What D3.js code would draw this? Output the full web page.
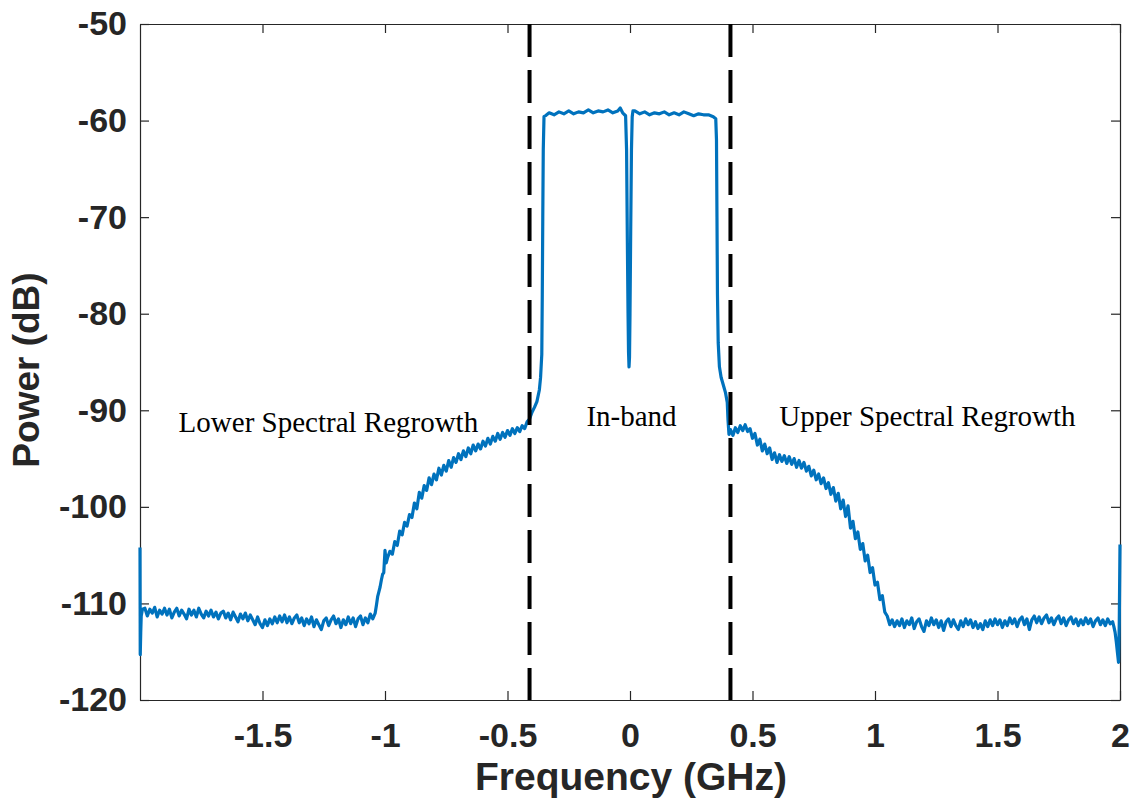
<!DOCTYPE html>
<html>
<head>
<meta charset="utf-8">
<script src="https://cdn.jsdelivr.net/npm/d3@7"></script>
<style>
    body { margin: 0; background: #fff; }
    svg text { font-family: "Liberation Sans", Arial, sans-serif; }
</style>
</head>
<body>
<svg id="chart" width="1135" height="800"></svg>
<script>
// tick values
const xTicks = [-1.5, -1, -0.5, 0, 0.5, 1, 1.5, 2];
const yTicks = [-120, -110, -100, -90, -80, -70, -60, -50];

// dashed band edges (GHz)
const bandEdges = [-0.41, 0.41];

// region annotations
const regionLabels = ['Lower Spectral Regrowth', 'In-band', 'Upper Spectral Regrowth'];
const regionLabelFreq = [-1.231, 0.006, 1.214];
const regionLabelPower = [-92.3, -91.6, -91.6];

// spectrum, [frequency GHz, power dB]
const leftEdge = [
    [-2.0, -104.2], [-1.999, -115.3], [-1.997, -113.0], [-1.995, -111.3], [-1.99, -110.6]
];
const lowerFloor = [
    [-1.98, -110.5], [-1.97, -111.3], [-1.96, -110.6], [-1.95, -111.0], [-1.94, -110.4],
    [-1.93, -111.4], [-1.92, -110.7], [-1.91, -111.1], [-1.90, -110.5], [-1.89, -111.2],
    [-1.88, -110.6], [-1.87, -111.5], [-1.86, -110.9], [-1.85, -110.5], [-1.84, -111.3],
    [-1.83, -110.7], [-1.82, -111.1], [-1.81, -111.6], [-1.80, -110.6], [-1.79, -111.2],
    [-1.78, -110.7], [-1.77, -111.4], [-1.76, -110.5], [-1.75, -111.1], [-1.74, -111.5],
    [-1.73, -110.8], [-1.72, -111.3], [-1.71, -110.7], [-1.70, -111.4], [-1.69, -110.9],
    [-1.68, -111.6], [-1.67, -111.0], [-1.66, -110.8], [-1.65, -111.5], [-1.64, -111.0],
    [-1.63, -111.7], [-1.62, -110.9], [-1.61, -111.4], [-1.60, -111.9], [-1.59, -111.1],
    [-1.58, -111.6], [-1.57, -111.0], [-1.56, -111.8], [-1.55, -111.2], [-1.54, -111.7],
    [-1.53, -112.2], [-1.52, -111.4], [-1.51, -112.1], [-1.50, -112.5], [-1.49, -111.7],
    [-1.48, -112.3], [-1.47, -111.6], [-1.46, -112.1], [-1.45, -111.4], [-1.44, -112.0],
    [-1.43, -111.3], [-1.42, -111.9], [-1.41, -111.2], [-1.40, -112.0], [-1.39, -111.4],
    [-1.38, -112.1], [-1.37, -111.5], [-1.36, -111.2], [-1.35, -112.0], [-1.34, -111.5],
    [-1.33, -112.3], [-1.32, -111.6], [-1.31, -112.1], [-1.30, -111.4], [-1.29, -112.4],
    [-1.28, -111.7], [-1.27, -112.2], [-1.26, -112.7], [-1.25, -111.8], [-1.24, -111.5],
    [-1.23, -112.3], [-1.22, -111.7], [-1.21, -111.3], [-1.20, -112.1], [-1.19, -111.6],
    [-1.18, -112.5], [-1.17, -111.7], [-1.16, -112.2], [-1.15, -111.4], [-1.14, -112.1],
    [-1.13, -111.5], [-1.12, -112.4], [-1.11, -111.6], [-1.10, -111.3], [-1.09, -112.2],
    [-1.08, -111.5], [-1.07, -112.0], [-1.06, -111.1], [-1.05, -111.6]
];
const lowerRegrowth = [
    [-1.04, -111.0], [-1.035, -110.2], [-1.03, -109.3], [-1.025, -108.8], [-1.02, -108.3],
    [-1.015, -107.6], [-1.01, -107.0], [-1.005, -106.8], [-1.0, -104.5], [-0.995, -105.8],
    [-0.99, -105.3], [-0.98, -104.6], [-0.97, -104.9], [-0.96, -103.6], [-0.95, -104.0],
    [-0.94, -102.5], [-0.93, -102.9], [-0.92, -101.6], [-0.91, -102.0], [-0.90, -100.8],
    [-0.89, -101.1], [-0.88, -99.6], [-0.87, -100.2], [-0.86, -98.5], [-0.85, -99.1],
    [-0.84, -97.8], [-0.83, -98.3], [-0.82, -97.0], [-0.81, -97.7], [-0.80, -96.6],
    [-0.79, -97.2], [-0.78, -96.0], [-0.77, -96.7], [-0.76, -95.7], [-0.75, -96.3],
    [-0.74, -95.2], [-0.73, -95.9], [-0.72, -94.9], [-0.71, -95.4], [-0.70, -94.5],
    [-0.69, -95.1], [-0.68, -94.2], [-0.67, -94.8], [-0.66, -93.9], [-0.65, -94.5],
    [-0.64, -93.6], [-0.63, -94.2], [-0.62, -93.5], [-0.61, -94.0], [-0.60, -93.2],
    [-0.59, -93.7], [-0.58, -92.9], [-0.57, -93.5], [-0.56, -92.7], [-0.55, -93.2],
    [-0.54, -92.4], [-0.53, -93.0], [-0.52, -92.3], [-0.51, -92.8], [-0.50, -92.1],
    [-0.49, -92.6], [-0.48, -91.9], [-0.47, -92.4], [-0.46, -91.8], [-0.45, -92.2],
    [-0.44, -91.6], [-0.43, -91.9], [-0.42, -91.2], [-0.41, -90.9], [-0.40, -90.2],
    [-0.39, -89.7], [-0.38, -89.1], [-0.37, -87.9], [-0.365, -86.6], [-0.36, -84.2],
    [-0.358, -78.0], [-0.356, -70.0], [-0.354, -63.0], [-0.351, -59.6]
];
const inBand = [
    [-0.345, -59.5], [-0.33, -59.2], [-0.31, -59.4], [-0.29, -59.1], [-0.27, -59.3],
    [-0.25, -59.0], [-0.23, -59.3], [-0.21, -59.1], [-0.19, -59.2], [-0.17, -58.9],
    [-0.15, -59.2], [-0.13, -59.0], [-0.11, -59.1], [-0.09, -58.9], [-0.07, -59.2],
    [-0.05, -59.0], [-0.04, -58.7], [-0.03, -59.2], [-0.018, -59.5], [-0.014, -63.0],
    [-0.011, -72.0], [-0.008, -80.0], [-0.006, -84.0], [-0.004, -85.5], [-0.002, -84.5],
    [0.0, -80.0], [0.003, -71.0], [0.006, -63.0], [0.009, -59.6], [0.012, -59.0],
    [0.02, -59.0], [0.04, -59.3], [0.06, -59.1], [0.08, -59.4], [0.10, -59.2],
    [0.12, -59.3], [0.14, -59.1], [0.16, -59.4], [0.18, -59.2], [0.20, -59.4],
    [0.22, -59.1], [0.24, -59.3], [0.26, -59.5], [0.28, -59.3], [0.30, -59.4],
    [0.32, -59.4], [0.34, -59.6], [0.345, -59.7], [0.350, -59.8], [0.353, -62.0],
    [0.355, -70.0], [0.357, -78.0], [0.360, -83.0], [0.365, -85.5], [0.372, -86.6],
    [0.38, -87.3], [0.39, -88.2], [0.397, -89.2], [0.400, -91.0], [0.404, -92.5],
    [0.41, -92.0]
];
const upperRegrowth = [
    [0.42, -92.6], [0.43, -91.8], [0.44, -92.3], [0.45, -91.6], [0.46, -92.1],
    [0.47, -91.5], [0.48, -92.2], [0.49, -91.9], [0.50, -92.9], [0.51, -92.4],
    [0.52, -93.6], [0.53, -93.0], [0.54, -94.2], [0.55, -93.5], [0.56, -94.5],
    [0.57, -93.9], [0.58, -95.1], [0.59, -94.4], [0.60, -95.4], [0.61, -94.6],
    [0.62, -95.3], [0.63, -94.7], [0.64, -95.5], [0.65, -94.8], [0.66, -95.6],
    [0.67, -95.0], [0.68, -95.9], [0.69, -95.2], [0.70, -96.0], [0.71, -95.4],
    [0.72, -96.3], [0.73, -95.8], [0.74, -96.8], [0.75, -96.2], [0.76, -97.2],
    [0.77, -96.6], [0.78, -97.6], [0.79, -97.0], [0.80, -98.1], [0.81, -97.5],
    [0.82, -98.7], [0.83, -98.0], [0.84, -99.4], [0.85, -98.6], [0.86, -100.2],
    [0.87, -99.3], [0.88, -101.0], [0.89, -99.9], [0.90, -102.2], [0.91, -101.5],
    [0.92, -103.3], [0.93, -102.6], [0.94, -104.4], [0.95, -103.8], [0.96, -105.6],
    [0.97, -105.0], [0.98, -106.8], [0.99, -106.3], [1.00, -108.1], [1.01, -107.8],
    [1.02, -109.6], [1.03, -109.2], [1.04, -110.9], [1.05, -111.3], [1.06, -112.2]
];
const upperFloor = [
    [1.07, -111.7], [1.08, -112.4], [1.09, -111.8], [1.10, -112.3], [1.11, -111.6],
    [1.12, -112.5], [1.13, -111.8], [1.14, -112.2], [1.15, -111.5], [1.16, -112.6],
    [1.17, -111.9], [1.18, -111.6], [1.19, -112.4], [1.20, -112.9], [1.21, -111.8],
    [1.22, -112.3], [1.23, -111.5], [1.24, -112.2], [1.25, -111.7], [1.26, -112.5],
    [1.27, -111.8], [1.28, -112.8], [1.29, -111.9], [1.30, -111.6], [1.31, -112.4],
    [1.32, -111.7], [1.33, -112.3], [1.34, -112.7], [1.35, -111.8], [1.36, -112.4],
    [1.37, -111.6], [1.38, -112.2], [1.39, -111.7], [1.40, -112.5], [1.41, -111.9],
    [1.42, -112.6], [1.43, -112.1], [1.44, -112.7], [1.45, -111.8], [1.46, -112.4],
    [1.47, -111.7], [1.48, -112.3], [1.49, -111.6], [1.50, -112.2], [1.51, -111.7],
    [1.52, -112.5], [1.53, -111.8], [1.54, -112.3], [1.55, -111.5], [1.56, -112.1],
    [1.57, -111.6], [1.58, -112.4], [1.59, -111.7], [1.60, -111.4], [1.61, -112.2],
    [1.62, -111.6], [1.63, -112.7], [1.64, -111.7], [1.65, -111.3], [1.66, -112.0],
    [1.67, -111.4], [1.68, -112.1], [1.69, -111.5], [1.70, -111.2], [1.71, -112.0],
    [1.72, -111.5], [1.73, -112.2], [1.74, -111.6], [1.75, -111.3], [1.76, -112.1],
    [1.77, -111.5], [1.78, -112.3], [1.79, -111.7], [1.80, -111.4], [1.81, -112.1],
    [1.82, -111.6], [1.83, -112.3], [1.84, -111.7], [1.85, -112.2], [1.86, -111.5],
    [1.87, -112.1], [1.88, -111.6], [1.89, -112.4], [1.90, -111.8], [1.91, -111.5],
    [1.92, -112.2], [1.93, -111.7], [1.94, -112.3], [1.95, -111.6], [1.96, -112.1],
    [1.97, -111.9], [1.975, -112.4]
];
const rightEdge = [
    [1.98, -113.0], [1.985, -114.0], [1.99, -115.2], [1.994, -116.1], [1.997, -112.0], [2.0, -103.9]
];

const spectrum = [].concat(leftEdge, lowerFloor, lowerRegrowth, inBand, upperRegrowth, upperFloor, rightEdge);

const axisColor = '#262626';
const lineColor = '#0072BD';

const chart = {
    left: 140, top: 24, right: 1120, bottom: 700,

    draw: function () {
        const svg = d3.select('#chart');
        const x = d3.scaleLinear().domain([-2, 2]).range([this.left, this.right]);
        const y = d3.scaleLinear().domain([-120, -50]).range([this.bottom, this.top]);

        // axes, ticks inward like matlab, mirrored on top/right
        const fmt = d => String(d);
        svg.append('g')
            .attr('transform', 'translate(0,' + this.bottom + ')')
            .call(d3.axisBottom(x).tickValues(xTicks).tickFormat(fmt).tickSizeInner(-9).tickSizeOuter(0).tickPadding(23));
        svg.append('g')
            .attr('transform', 'translate(' + this.left + ',0)')
            .call(d3.axisLeft(y).tickValues(yTicks).tickFormat(fmt).tickSizeInner(-9).tickSizeOuter(0).tickPadding(13));
        svg.append('g')
            .attr('transform', 'translate(0,' + this.top + ')')
            .call(d3.axisTop(x).tickValues(xTicks).tickFormat('').tickSizeInner(-9).tickSizeOuter(0));
        svg.append('g')
            .attr('transform', 'translate(' + this.right + ',0)')
            .call(d3.axisRight(y).tickValues(yTicks).tickFormat('').tickSizeInner(-9).tickSizeOuter(0));

        svg.selectAll('.domain, .tick line').attr('stroke', axisColor).attr('stroke-width', 1.2);
        svg.selectAll('.tick text')
            .attr('fill', axisColor)
            .style('font-size', '34px')
            .style('font-weight', 'bold');

        // spectrum trace
        const line = d3.line().x(d => x(d[0])).y(d => y(d[1]));
        svg.append('path')
            .datum(spectrum)
            .attr('d', line)
            .attr('fill', 'none')
            .attr('stroke', lineColor)
            .attr('stroke-width', 3.2)
            .attr('stroke-linejoin', 'round');

        // band edges
        svg.selectAll('.edge')
            .data(bandEdges)
            .enter().append('line')
            .attr('x1', d => x(d)).attr('x2', d => x(d))
            .attr('y1', y(-50)).attr('y2', y(-120))
            .attr('stroke', '#000')
            .attr('stroke-width', 4)
            .attr('stroke-dasharray', '33,13');

        // region text
        svg.selectAll('.region')
            .data(regionLabels)
            .enter().append('text')
            .attr('x', (d, i) => x(regionLabelFreq[i]))
            .attr('y', (d, i) => y(regionLabelPower[i]))
            .attr('text-anchor', 'middle')
            .style('font-family', '"Liberation Serif", "Times New Roman", serif')
            .style('font-size', '29px')
            .attr('fill', '#000')
            .text(d => d);

        // axis titles
        svg.append('text')
            .attr('x', 631).attr('y', 790)
            .attr('text-anchor', 'middle')
            .style('font-size', '39px').style('font-weight', 'bold')
            .attr('fill', axisColor)
            .text('Frequency (GHz)');
        svg.append('text')
            .attr('transform', 'translate(39,370) rotate(-90)')
            .attr('text-anchor', 'middle')
            .style('font-size', '37px').style('font-weight', 'bold')
            .attr('fill', axisColor)
            .text('Power (dB)');
    },
};

chart.draw();
</script>
</body>
</html>
